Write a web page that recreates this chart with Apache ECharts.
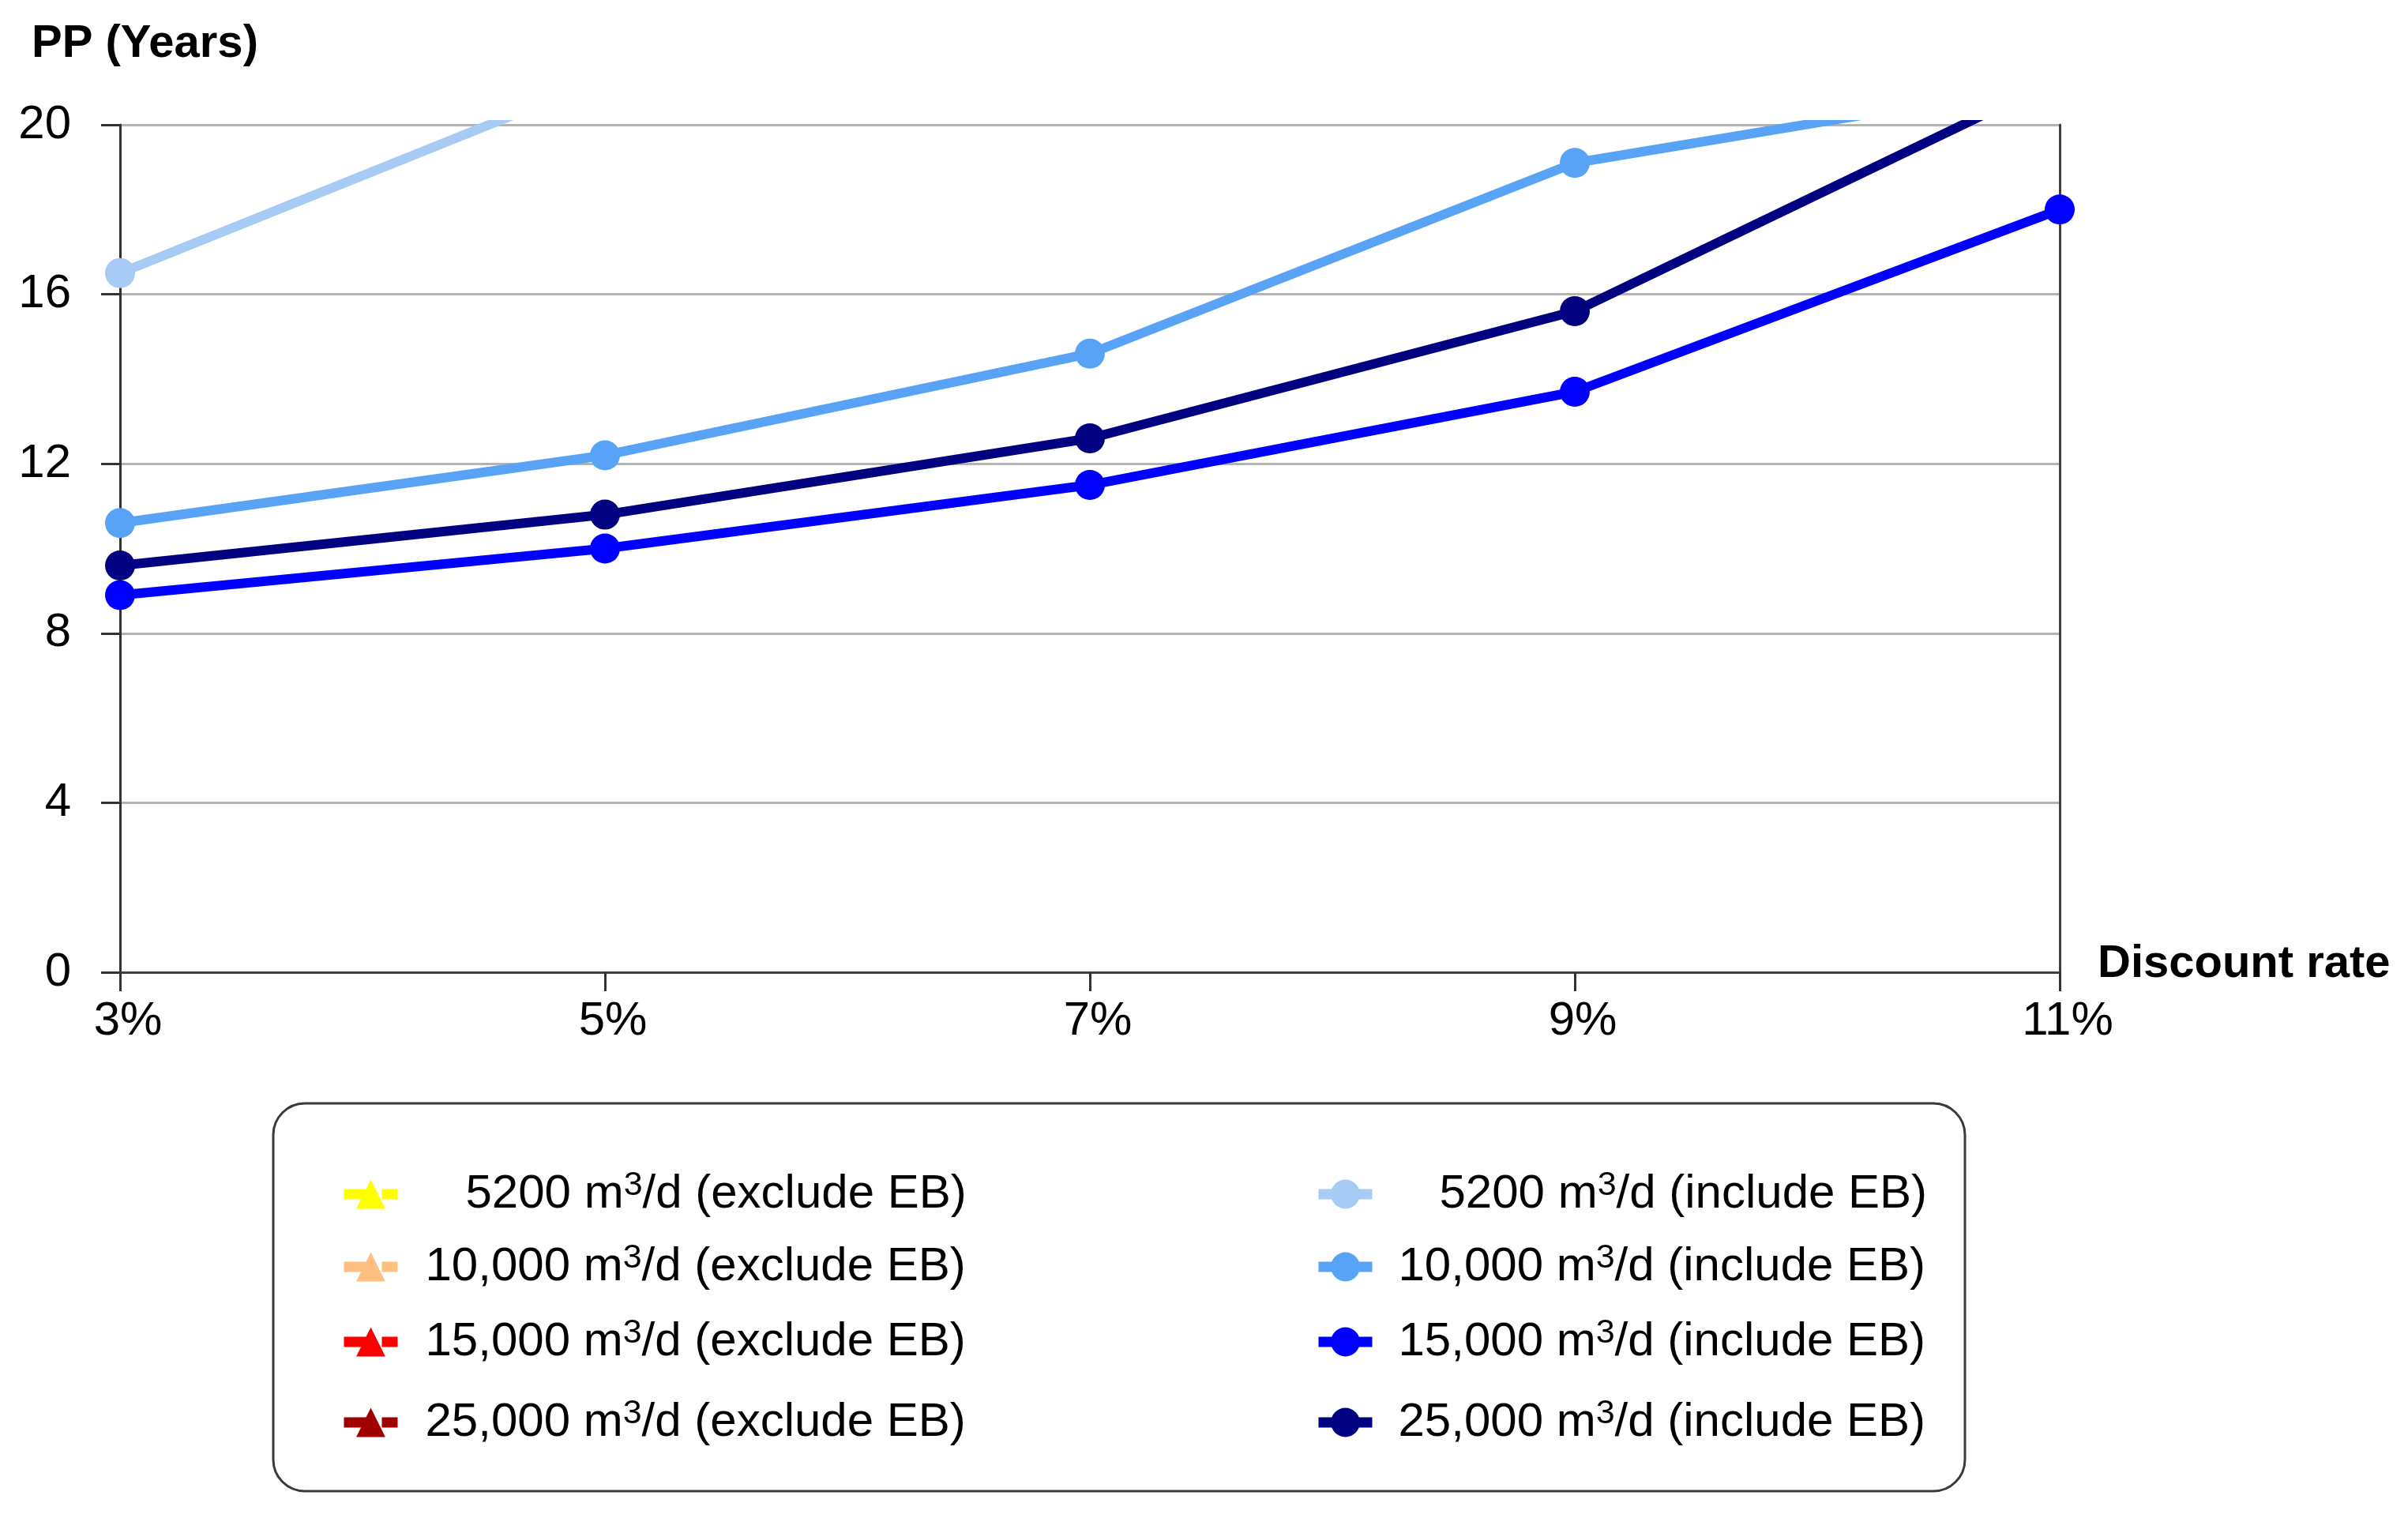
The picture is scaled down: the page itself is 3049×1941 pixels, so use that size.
<!DOCTYPE html>
<html>
<head>
<meta charset="utf-8">
<script src="https://cdn.jsdelivr.net/npm/echarts@6/dist/echarts.min.js"></script>
<style>
html,body{margin:0;padding:0;background:#fff;}
#chart{width:3049px;height:1941px;}
</style>
</head>
<body>
<div id="chart"></div>
<script>
const categories = ['3%', '5%', '7%', '9%', '11%'];
const yTicks = [0, 4, 8, 12, 16, 20];

const names = [
  '5200 m³/d (exclude EB)',
  '10,000 m³/d (exclude EB)',
  '15,000 m³/d (exclude EB)',
  '25,000 m³/d (exclude EB)',
  '5200 m³/d (include EB)',
  '10,000 m³/d (include EB)',
  '15,000 m³/d (include EB)',
  '25,000 m³/d (include EB)'
];

// exclude EB series lie entirely above the 20-year axis limit (not visible)
const exc5200 = [null, null, null, null, null];
const exc10000 = [null, null, null, null, null];
const exc15000 = [null, null, null, null, null];
const exc25000 = [null, null, null, null, null];
// include EB series (values above 20 are clipped by the axis)
const inc5200 = [16.5, 21.1, null, null, null];
const inc10000 = [10.6, 12.2, 14.6, 19.1, 21.0];
const inc15000 = [8.9, 10.0, 11.5, 13.7, 18.0];
const inc25000 = [9.6, 10.8, 12.6, 15.6, 21.1];

const seriesData = [exc5200, exc10000, exc15000, exc25000, inc5200, inc10000, inc15000, inc25000];
const colors = ['#FFFF00', '#FFBF80', '#FF0000', '#A00000', '#A7CBF4', '#59A3F7', '#0000FF', '#000080'];

const FONT = '"Liberation Sans", Arial, sans-serif';

const series = seriesData.map(function (d, i) {
  const exclude = i < 4;
  return {
    name: names[i],
    type: 'line',
    data: d,
    color: colors[i],
    symbol: exclude ? 'triangle' : 'circle',
    symbolSize: exclude ? 34 : 38,
    showAllSymbol: true,
    connectNulls: false,
    lineStyle: { width: 12, color: colors[i], type: exclude ? [30, 18] : 'solid' },
    itemStyle: { color: colors[i] },
    z: 3 + i,
    emphasis: { disabled: true }
  };
});

// legend positions (one legend per entry)
const rowCenters = [1512, 1604, 1699, 1801];
const legends = names.map(function (n, i) {
  const col = i < 4 ? 0 : 1;
  const row = i % 4;
  const left = col === 0 ? 429 : 1663;
  const short = row === 0;
  const padLeft = col === 0 ? (short ? 81 : 30) : (short ? 80 : 28);
  return {
    data: [n],
    orient: 'vertical',
    left: left,
    top: rowCenters[row] - 32,
    padding: 0,
    itemWidth: 68,
    itemHeight: 46,
    selectedMode: false,
    lineStyle: { width: 13 },
    formatter: function (name) {
      const parts = name.split('³');
      return '{n|' + parts[0] + '}{s|3}{n|' + parts[1] + '}';
    },
    textStyle: {
      padding: [0, 0, 0, padLeft],
      rich: {
        n: { fontSize: 60, fontFamily: FONT, color: '#000', lineHeight: 64 },
        s: { fontSize: 43, fontFamily: FONT, color: '#000', lineHeight: 6, verticalAlign: 'top' }
      }
    }
  };
});

const chart = echarts.init(document.getElementById('chart'), null, { renderer: 'canvas' });
chart.setOption({
  backgroundColor: '#ffffff',
  animation: false,
  title: {
    text: 'PP (Years)',
    left: 35,
    top: 22,
    textStyle: { fontSize: 58, fontWeight: 'bold', color: '#000', fontFamily: FONT }
  },
  grid: { left: 152, right: 441, top: 158, bottom: 710, containLabel: false },
  legend: legends,
  xAxis: [{
    type: 'category',
    data: categories,
    boundaryGap: false,
    name: 'Discount rate',
    nameLocation: 'end',
    nameGap: 48,
    nameMoveOverlap: false,
    nameTextStyle: { fontSize: 58, fontWeight: 'bold', color: '#000', fontFamily: FONT, verticalAlign: 'bottom', lineHeight: 20 },
    axisLine: { lineStyle: { color: '#333333', width: 3 } },
    axisTick: { show: true, length: 24, lineStyle: { color: '#333333', width: 3 }, alignWithLabel: true },
    axisLabel: { fontSize: 60, color: '#000', fontFamily: FONT, margin: 32, padding: [0, 0, 0, 20] },
    splitLine: { show: false }
  }, {
    type: 'category',
    data: categories,
    boundaryGap: false,
    position: 'top',
    axisLine: { lineStyle: { color: '#404040', width: 3 } },
    axisTick: { show: false },
    axisLabel: { show: false },
    splitLine: { show: false }
  }],
  yAxis: [{
    type: 'value',
    min: 0,
    max: 20,
    interval: 4,
    axisLine: { show: true, lineStyle: { color: '#333333', width: 3 } },
    axisTick: { show: true, length: 24, lineStyle: { color: '#333333', width: 3 } },
    axisLabel: {
      fontSize: 60, color: '#000', fontFamily: FONT, margin: 62,
      formatter: function (v) { return yTicks.indexOf(v) >= 0 ? String(v) : ''; }
    },
    splitLine: { show: true, lineStyle: { color: '#B3B3B3', width: 3 } }
  }, {
    type: 'value',
    min: 0,
    max: 20,
    interval: 4,
    position: 'right',
    axisLine: { show: true, lineStyle: { color: '#404040', width: 3 } },
    axisTick: { show: false },
    axisLabel: { show: false },
    splitLine: { show: false }
  }],
  graphic: [{
    type: 'rect',
    z: 1,
    shape: { x: 346, y: 1397, width: 2142, height: 491, r: 40 },
    style: { fill: '#ffffff', stroke: '#3a3a3a', lineWidth: 3 }
  }],
  series: series
});
</script>
</body>
</html>
